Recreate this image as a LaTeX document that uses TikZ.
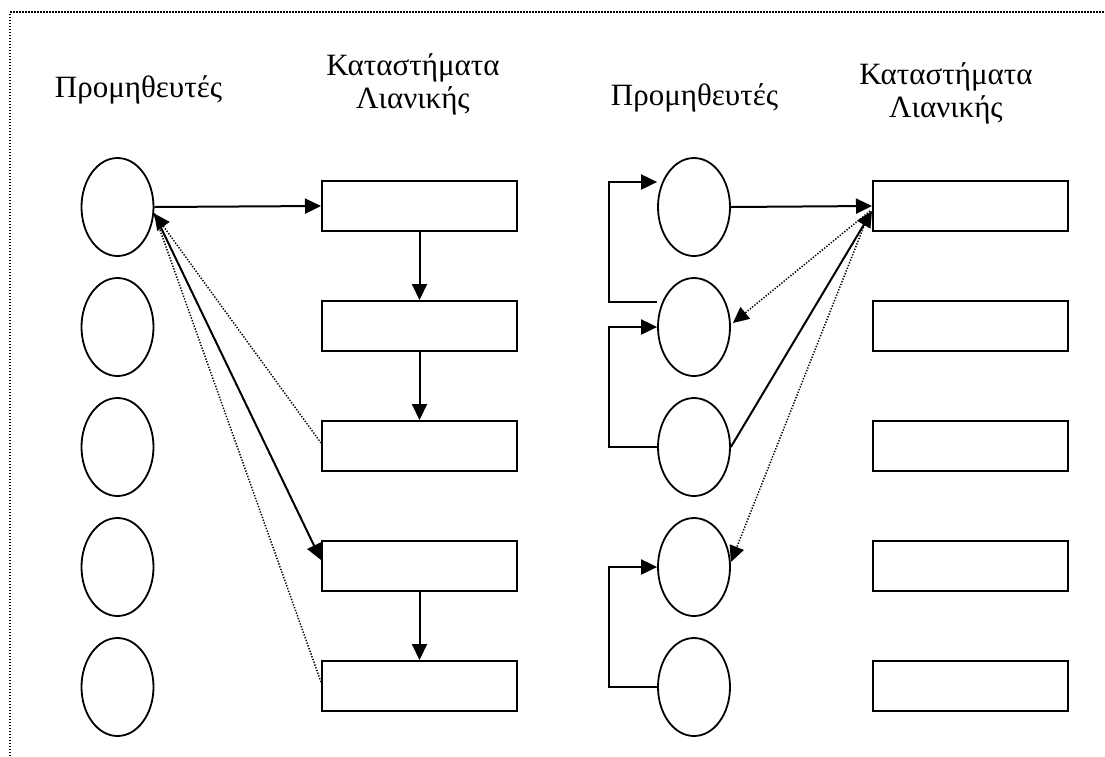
\documentclass[tikz,border=0pt]{standalone}
\usepackage{fontspec}
\setmainfont{Liberation Serif}
\usetikzlibrary{arrows.meta,calc,shapes.geometric}
\begin{document}
\begin{tikzpicture}[x=1pt,y=-1pt,
  supplier/.style={draw,ellipse,line width=1.8pt,minimum width=72pt,minimum height=98pt,inner sep=0pt},
  shop/.style={draw,rectangle,line width=2pt,minimum width=195pt,minimum height=50pt,inner sep=0pt},
  tip/.style={-{Triangle[length=16pt,width=15pt]}},
  flow/.style={line width=2pt,tip},
  dotline/.style={line width=1.5pt,dash pattern=on 1.3pt off 1.6pt},
  back/.style={dotline,tip},
  heading/.style={font=\fontsize{31}{33}\selectfont,align=center,inner sep=0pt,anchor=base}]

\useasboundingbox (0,0) rectangle (1105,756);

% frame
\draw[line width=2pt,dash pattern=on 1.5pt off 1.5pt] (10,756) -- (10,12) -- (1105,12);

% headings (base anchor sits on the last line)
\node[heading] (h1) at (138.5,97) {Προμηθευτές};
\node[heading] (h2) at (413,108) {Καταστήματα\\Λιανικής};
\node[heading] (h3) at (694.5,105) {Προμηθευτές};
\node[heading] (h4) at (946,117) {Καταστήματα\\Λιανικής};

% suppliers and shops
\foreach \i in {1,...,5} {
  \node[supplier] (a\i) at (117.5,{207+120*(\i-1)}) {};
  \node[shop]     (s\i) at (419.5,{206+120*(\i-1)}) {};
  \node[supplier] (b\i) at (694,{207+120*(\i-1)}) {};
  \node[shop]     (t\i) at (970.5,{206+120*(\i-1)}) {};
}

% left scheme
\draw[flow] (a1.east) -- (s1.west);
\draw[flow] (s1.south) -- (s2.north);
\draw[flow] (s2.south) -- (s3.north);
\draw[flow] (s4.south) -- (s5.north);
\draw[flow] (a1.-10) -- ($(s4.west)+(0,-6)$);
\draw[back] ($(s3.west)+(0,-3)$) -- (a1.-10);
\draw[dotline] ($(s5.west)+(0,-4)$) -- (a1.-10);

% right scheme
\draw[flow] (b1.east) -- (t1.west);
\draw[flow] (b3.east) -- ($(t1.west)+(0,5)$);
\draw[back] ($(t1.west)+(-2,5)$) -- ($(b2.east)+(2,-4)$);
\draw[back] ($(t1.west)+(-2,5)$) -- ($(b4.east)+(0,-5)$);
\draw[flow] ($(b2.west)+(0,-25)$) -- ++(-48,0) |- ($(b1.west)+(0,-25)$);
\draw[flow] (b3.west) -- ++(-48,0) |- (b2.west);
\draw[flow] (b5.west) -- ++(-48,0) |- (b4.west);
\end{tikzpicture}
\end{document}
